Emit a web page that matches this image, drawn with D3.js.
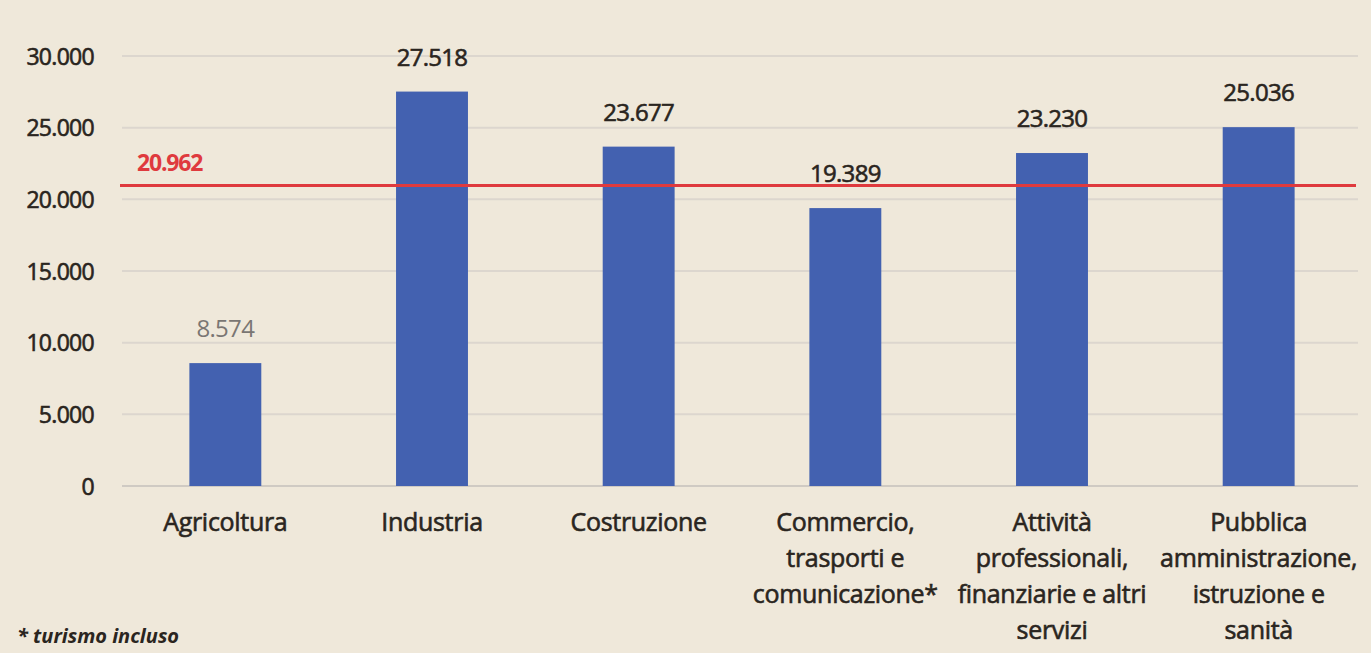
<!DOCTYPE html>
<html><head><meta charset="utf-8">
<script src="https://cdn.jsdelivr.net/npm/d3@7"></script>
<style>
html,body{margin:0;padding:0;background:#efe8da;}
svg{display:block;font-family:"Open Sans",Lato,sans-serif;}
</style></head>
<body><svg id="c" width="1371" height="653"></svg>
<script>
const categories = [
  ["Agricoltura"],
  ["Industria"],
  ["Costruzione"],
  ["Commercio,","trasporti e","comunicazione*"],
  ["Attività","professionali,","finanziarie e altri","servizi"],
  ["Pubblica","amministrazione,","istruzione e","sanità"]
];
const values = [8574, 27518, 23677, 19389, 23230, 25036];
const valueLabels = ["8.574","27.518","23.677","19.389","23.230","25.036"];
const average = 20962;
const averageLabel = "20.962";
const yTicks = [0,5000,10000,15000,20000,25000,30000];
const yTickLabels = ["0","5.000","10.000","15.000","20.000","25.000","30.000"];
const footnote = "* turismo incluso";

const FONT = '"Open Sans",Lato,sans-serif';
const INK = "#2a2520";
const svg = d3.select("#c");
svg.append("rect").attr("width",1371).attr("height",653).attr("fill","#efe8da");
const pLeft=122, pRight=1362, pTop=56, pBottom=486;
const x = d3.scaleBand().domain(d3.range(values.length)).range([pLeft,pRight]).paddingInner(0.652).paddingOuter(0.326);
const y = d3.scaleLinear().domain([0,30000]).range([pBottom,pTop]);

// gridlines
svg.append("g").selectAll("line").data(yTicks).join("line")
  .attr("x1",pLeft).attr("x2",1358).attr("y1",d=>y(d)).attr("y2",d=>y(d))
  .attr("stroke",d=>d===0?"#cfcac3":"#dcd6ce").attr("stroke-width",2);

// y axis labels
const yAxis = d3.axisLeft(y).tickValues(yTicks).tickFormat((d,i)=>yTickLabels[i]).tickSize(0).tickPadding(0);
const gy = svg.append("g").attr("transform",`translate(94,0)`).call(yAxis);
gy.select(".domain").remove();
gy.selectAll("text").attr("font-size",23).attr("font-weight",400).attr("letter-spacing","-0.7")
  .attr("fill",INK).attr("stroke",INK).attr("stroke-width",0.6)
  .attr("font-family",FONT).attr("dy","0.35em");

// bars
svg.append("g").selectAll("rect").data(values).join("rect")
  .attr("x",(d,i)=>x(i)).attr("width",x.bandwidth())
  .attr("y",d=>y(d)).attr("height",d=>pBottom-y(d))
  .attr("fill","#4361b0");

// value labels
svg.append("g").selectAll("text").data(values).join("text")
  .attr("x",(d,i)=>x(i)+x.bandwidth()/2).attr("y",d=>y(d)-26)
  .attr("text-anchor","middle").attr("font-size",24).attr("letter-spacing","-0.7")
  .attr("fill",(d,i)=>i===0?"#7a7673":INK)
  .attr("stroke",(d,i)=>i===0?"none":INK).attr("stroke-width",0.6)
  .text((d,i)=>valueLabels[i]);

// average line
svg.append("line").attr("x1",120).attr("x2",1356).attr("y1",y(average)).attr("y2",y(average))
  .attr("stroke","#df3a3e").attr("stroke-width",3);
svg.append("text").attr("x",137).attr("y",y(average)-15).attr("font-size",23).attr("font-weight","bold")
  .attr("fill","#df3a3e").attr("letter-spacing","-1.2").text(averageLabel);

// category labels
const xl = svg.append("g");
categories.forEach((lines,i)=>{
  const t = xl.append("text").attr("text-anchor","middle").attr("font-size",25)
    .attr("letter-spacing","-0.3").attr("fill",INK).attr("stroke",INK).attr("stroke-width",0.6)
    .attr("x",x(i)+x.bandwidth()/2);
  lines.forEach((l,j)=>t.append("tspan").attr("x",x(i)+x.bandwidth()/2).attr("y",531+j*36).text(l));
});

// footnote
svg.append("text").attr("x",17).attr("y",643).attr("font-size",20).attr("font-style","italic")
  .attr("font-weight","bold").attr("fill",INK).text(footnote);
</script></body></html>
